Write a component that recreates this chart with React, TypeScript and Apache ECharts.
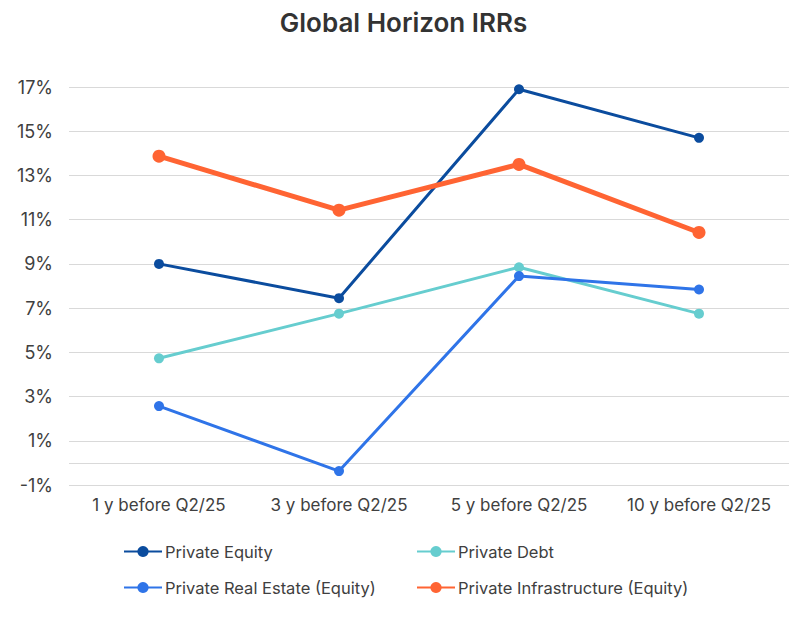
import React, { useEffect, useRef } from "react";
import * as echarts from "echarts";

const categories = ["1 y before Q2/25", "3 y before Q2/25", "5 y before Q2/25", "10 y before Q2/25"];
const privateEquity = [9.0, 7.45, 16.9, 14.7];
const privateDebt = [4.73, 6.75, 8.85, 6.75];
const privateRealEstate = [2.57, -0.37, 8.45, 7.84];
const privateInfrastructure = [13.87, 11.43, 13.5, 10.42];
const seriesNames = ["Private Equity", "Private Debt", "Private Real Estate (Equity)", "Private Infrastructure (Equity)"];
const yMin = -1;
const yMax = 17;
const yStep = 2;

const FONT = "Inter, Roboto, 'Noto Sans', sans-serif";

export default function App() {
  const ref = useRef<HTMLDivElement>(null);
  useEffect(() => {
    if (!ref.current) return;
    const chart = echarts.init(ref.current, null, { renderer: "svg" });
    const legendBase = {
      orient: "horizontal" as const,
      padding: 0,
      itemWidth: 38,
      itemHeight: 14,
      itemGap: 4,
      textStyle: { fontFamily: FONT, fontSize: 16.5, color: "#404040", padding: [0, 0, 0, -2] },
    };
    const colors = ["#0B4C9E", "#66CDCF", "#2F74E8", "#FF6433"];
    const widths = [3, 3, 3, 5];
    const sizes = [10, 10, 10, 13];
    const datas = [privateEquity, privateDebt, privateRealEstate, privateInfrastructure];
    chart.setOption({
      animation: false,
      title: {
        text: "Global Horizon IRRs",
        left: "center",
        top: 4,
        textStyle: { fontFamily: FONT, fontSize: 26, fontWeight: 600, color: "#333333" },
      },
      grid: { left: 69, right: 18, top: 87, bottom: 140 },
      legend: [
        { ...legendBase, left: 123, top: 543, data: [seriesNames[0]] },
        { ...legendBase, left: 416, top: 543, data: [seriesNames[1]] },
        { ...legendBase, left: 123, top: 579, data: [seriesNames[2]] },
        { ...legendBase, left: 416, top: 579, data: [seriesNames[3]] },
      ],
      xAxis: {
        type: "category",
        data: categories,
        boundaryGap: true,
        axisLine: { show: false },
        axisTick: { show: false },
        axisLabel: { fontFamily: FONT, fontSize: 17, color: "#404040", margin: 11, interval: 0 },
      },
      yAxis: {
        type: "value",
        min: yMin,
        max: yMax,
        interval: yStep,
        axisLine: { show: false },
        axisTick: { show: false },
        axisLabel: {
          fontFamily: FONT,
          fontSize: 18,
          color: "#404040",
          margin: 16,
          formatter: (v: number) => `${v}%`,
        },
        splitLine: { lineStyle: { color: "#D9D9D9", width: 1 } },
      },
      series: seriesNames.map((name, i) => ({
        name,
        type: "line",
        data: datas[i],
        symbol: "circle",
        symbolSize: sizes[i],
        itemStyle: { color: colors[i] },
        lineStyle: { color: colors[i], width: widths[i] },
        z: 2 + i,
        markLine:
          i === 0
            ? {
                silent: true,
                symbol: "none",
                label: { show: false },
                lineStyle: { color: "#D9D9D9", width: 1, type: "solid" },
                data: [{ yAxis: 0 }],
                z: 1,
              }
            : undefined,
      })),
    });
    return () => chart.dispose();
  }, []);
  return <div ref={ref} style={{ width: 807, height: 625, margin: -8 }} />;
}
